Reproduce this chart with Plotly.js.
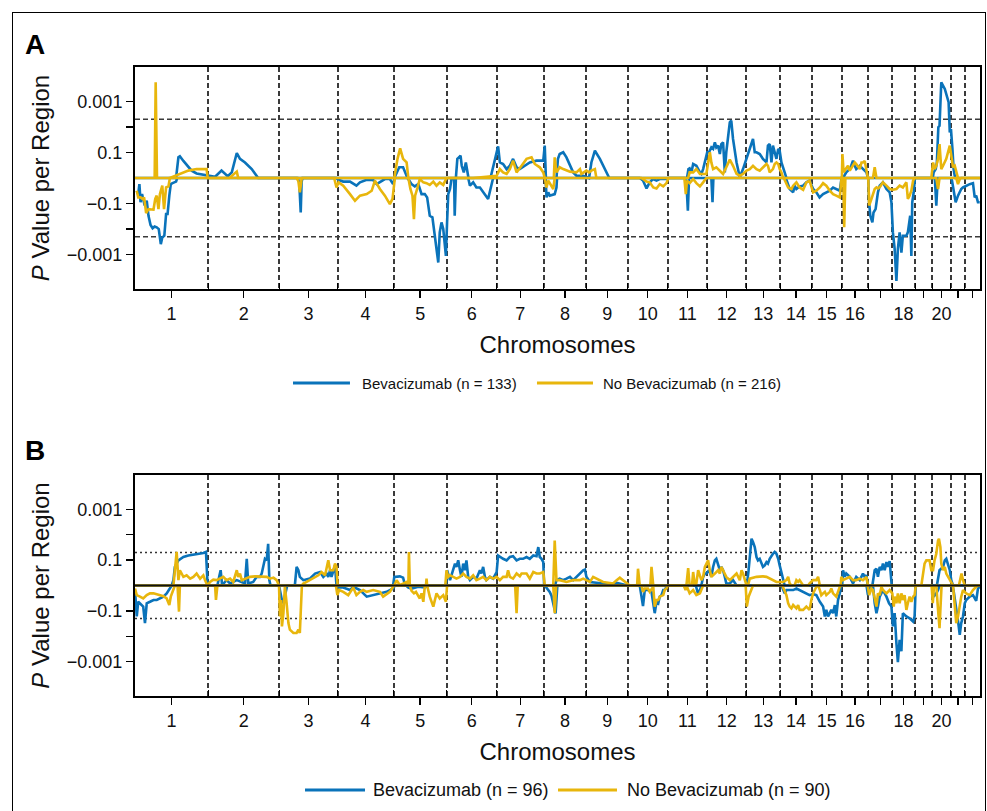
<!DOCTYPE html>
<html><head><meta charset="utf-8">
<script src="https://cdn.plot.ly/plotly-3.0.1.min.js"></script>
<style>
html,body{margin:0;padding:0;background:#fff}
#chart{width:987px;height:811px}
#frame{position:absolute;left:12px;top:12px;width:972px;height:820px;border:1px solid #000;border-bottom:none;pointer-events:none}
</style>
</head><body><div id="chart"></div><div id="frame"></div>
<script>
// Chromosome lengths (Mb, hg19) and labels
const chrSizes = [249.3,243.2,198.0,191.2,180.9,171.1,159.1,146.4,141.2,135.5,135.0,133.9,115.2,107.3,102.5,90.4,81.2,78.1,59.1,63.0,48.1,51.3];
const chrLabels = ['1','2','3','4','5','6','7','8','9','10','11','12','13','14','15','16','','18','','20','',''];
// y tick values in signed -log10(P) and their labels
const yTickVals = [-3,-2,-1,1,2,3];
const yTickText = ['\u22120.001','','\u22120.1','0.1','','0.001'];
const thrA = 2.3;   // P = 0.005
const thrB = 1.3;   // P = 0.05
const legendA = ['Bevacizumab (n = 133)','No Bevacizumab (n = 216)'];
const legendB = ['Bevacizumab (n = 96)','No Bevacizumab (n = 90)'];

// Panel A: [genome position Mb, signed -log10 P]
const aBevLoss = [[6,-0.50],[11,-0.63],[15,-0.24],[19,-0.95],[24,-0.63],[28,-0.82],[33,-1.08],[40,-0.89],[46,-1.48],[53,-1.84],[60,-1.97],[67,-1.90],[74,-1.93],[81,-2.00],[88,-2.59],[93,-2.33],[100,-2.26],[106,-1.41],[111,-1.41],[117,-0.69],[122,-0.24],[128,-0.20],[140,-0.14],[144,0],
[554,0],[560,-0.17],[565,-1.35],[568,-0.17],[571,0],
[687,0],[693,-0.07],[710,-0.14],[733,-0.14],[755,-0.30],[767,-0.17],[790,-0.07],[812,-0.08],[824,-0.24],[852,-0.04],[869,-0.04],[880,-0.24],[886,0],
[929,0],[935,-0.10],[943,-0.24],[954,-0.33],[966,-0.24],[977,-0.63],[988,-0.63],[996,-0.76],[1005,-1.48],[1014,-1.54],[1022,-2.26],[1028,-2.78],[1034,-3.31],[1039,-2.13],[1045,-1.74],[1051,-2.00],[1056,-2.78],[1060,-3.05],[1064,-1.74],[1068,-0.63],[1074,-0.43],[1079,-0.04],[1088,-0.04],[1090,-1.48],[1094,-0.04],[1096,0],
[1136,0],[1142,-0.30],[1153,-0.17],[1164,-0.37],[1176,-0.37],[1204,-0.82],[1221,0],
[1400,0],[1403,-0.76],[1409,-0.56],[1414,-0.69],[1423,-0.67],[1431,-0.63],[1437,-0.37],[1439,0],
[1721,0],[1732,-0.10],[1744,-0.41],[1755,-0.17],[1766,-0.04],[1778,-0.10],[1789,-0.04],[1812,-0.04],[1818,0],
[1874,0],[1880,-0.17],[1885,-1.28],[1889,0],
[1965,0],[1969,-0.95],[1972,0],
[2219,0],[2232,-0.43],[2244,-0.56],[2249,-0.30],[2255,-0.43],[2266,-0.33],[2278,-0.30],[2289,-0.17],[2300,-0.10],[2306,-0.24],[2312,-0.43],[2323,-0.56],[2334,-0.76],[2346,-0.63],[2357,-0.56],[2369,-0.50],[2380,-0.37],[2391,-0.43],[2403,-0.50],[2409,0],
[2500,0],[2503,-0.95],[2507,-1.48],[2514,-1.74],[2518,-1.35],[2525,-1.22],[2533,-0.56],[2539,-0.30],[2550,-0.17],[2562,-0.43],[2573,-0.56],[2579,-0.95],[2584,-2.13],[2590,-2.78],[2596,-4.03],[2601,-2.78],[2607,-2.13],[2613,-2.92],[2618,-2.26],[2630,-2.26],[2635,-2.13],[2643,-1.48],[2647,-3.05],[2650,-0.95],[2655,-0.56],[2659,0],
[2727,0],[2732,-1.08],[2737,0],
[2784,0],[2791,-0.43],[2798,-0.95],[2806,-0.69],[2812,-0.56],[2817,-0.43],[2823,-0.37],[2834,-0.30],[2846,-0.24],[2857,-0.20],[2863,-0.76],[2868,-0.69],[2874,-0.95],[2880,-0.95]];

const aBevGain = [[0,0],[140,0],[148,0.81],[153,0.85],[165,0.67],[178,0.48],[193,0.29],[210,0.18],[247,0.12],[273,0.05],[295,0.29],[316,0.07],[330,0.22],[347,0.98],[358,0.75],[375,0.61],[398,0.35],[420,0],
[884,0],[892,0.22],[901,0.42],[914,0.42],[924,0.16],[929,0],
[1094,0],[1099,0.75],[1105,0.81],[1110,0.88],[1114,0.48],[1121,0.22],[1128,0.61],[1133,0.29],[1137,0],
[1212,0],[1238,1.24],[1244,0.61],[1255,0.55],[1267,0.35],[1278,0.48],[1289,0.75],[1295,0.61],[1301,0.42],[1312,0.35],[1329,0.48],[1346,0.61],[1369,0.68],[1392,0.68],[1397,1.27],[1401,0],
[1437,0],[1442,0.75],[1448,0.94],[1460,1.01],[1471,0.81],[1483,0.48],[1494,0.22],[1505,0.09],[1528,0.09],[1542,0.03],[1548,0],[1556,0.61],[1568,1.07],[1585,0.75],[1602,0.35],[1617,0],
[1882,0],[1887,0.35],[1891,0.38],[1897,0.22],[1903,0.55],[1914,0.48],[1926,0.22],[1931,0.16],[1937,0.35],[1943,0.61],[1951,1.01],[1957,1.01],[1965,1.20],[1971,1.14],[1977,1.40],[1982,1.20],[1988,1.27],[1994,0.94],[1999,1.33],[2005,1.40],[2011,0.22],[2016,1.01],[2028,2.18],[2033,2.25],[2039,1.53],[2051,0.61],[2062,0.03],[2073,0.35],[2085,0.75],[2096,1.14],[2102,1.40],[2107,1.53],[2113,1.01],[2119,1.01],[2130,0.94],[2141,0.75],[2153,0.61],[2158,1.27],[2164,1.33],[2170,0.61],[2175,1.27],[2181,1.01],[2187,0.75],[2193,1.14],[2198,1.07],[2204,0.61],[2210,0.35],[2215,0.22],[2221,0],
[2414,0],[2425,0.22],[2437,0.35],[2442,0.48],[2448,0.68],[2454,0.48],[2459,0.35],[2471,0.48],[2482,0.35],[2494,0.22],[2499,0],
[2720,0],[2723,0.22],[2730,0.35],[2734,0.61],[2739,1.99],[2743,2.05],[2749,3.75],[2761,3.49],[2774,2.97],[2778,1.79],[2782,1.92],[2787,1.14],[2791,0.35],[2796,0],[2881,0]];

const aNoBevLoss = [[6,-0.50],[11,-0.76],[19,-0.76],[26,-0.82],[31,-0.76],[38,-1.37],[46,-1.22],[53,-1.22],[63,-1.24],[69,-0.82],[74,-0.69],[80,-1.22],[85,-0.63],[93,-0.30],[99,-1.22],[106,-0.37],[114,-0.33],[119,0],
[551,0],[557,-0.12],[562,-0.56],[568,-0.04],[571,0],
[679,0],[687,-0.37],[694,-0.17],[710,-0.30],[733,-0.63],[750,-0.89],[767,-0.69],[790,-0.63],[807,-0.50],[818,-0.10],[835,-0.43],[852,-0.69],[869,-1.02],[878,-0.82],[886,0],
[932,0],[939,-0.43],[946,-0.69],[951,-1.61],[955,-0.69],[962,-0.43],[971,-0.04],[983,-0.17],[994,-0.20],[1005,-0.27],[1017,-0.14],[1028,-0.30],[1039,-0.17],[1051,-0.27],[1062,0],
[1397,0],[1403,-0.37],[1409,-0.10],[1420,-0.30],[1426,-0.43],[1431,0],
[1727,0],[1732,-0.04],[1744,-0.14],[1755,-0.17],[1767,-0.37],[1778,-0.41],[1789,-0.24],[1801,-0.33],[1812,-0.20],[1819,0],
[1873,0],[1878,-0.63],[1882,-0.10],[1891,-0.20],[1903,-0.04],[1914,-0.20],[1926,-0.33],[1937,-0.17],[1948,0],
[2212,0],[2227,-0.37],[2238,-0.43],[2244,-0.30],[2255,-0.17],[2266,-0.37],[2278,-0.46],[2289,-0.17],[2300,-0.10],[2312,-0.56],[2323,-0.50],[2335,-0.37],[2346,-0.20],[2357,-0.30],[2369,-0.50],[2380,-0.63],[2391,-0.69],[2403,-0.76],[2409,0],
[2415,0],[2418,-1.93],[2422,0],
[2500,0],[2503,-1.08],[2511,-0.82],[2516,-0.63],[2522,-0.43],[2528,-0.37],[2534,-0.41],[2541,-0.33],[2550,-0.17],[2562,-0.30],[2573,-0.43],[2584,-0.46],[2596,-0.43],[2607,-0.30],[2618,-0.37],[2630,-0.17],[2635,-0.82],[2641,-0.69],[2647,-0.50],[2653,-0.10],[2658,0],
[2732,0],[2738,-0.43],[2743,0],[2800,0],[2806,-0.24],[2812,-0.04],[2817,0],[2881,0]];

const aNoBevGain = [[0,0],[67,0],[70.5,3.75],[75,0],[119,0],[148,0.12],[182,0.29],[210,0.35],[244,0.35],[248,0],[322,0],[347,0.25],[352,0],
[884,0],[895,0.75],[904,1.16],[914,0.75],[926,0.61],[932,0],
[1153,0],[1210,0.05],[1233,0.09],[1244,0.35],[1255,0.22],[1267,0.16],[1278,0.35],[1289,0.68],[1301,0.22],[1318,0.48],[1335,0.75],[1352,0.81],[1363,0.55],[1380,0.42],[1392,0.22],[1397,0],
[1428,0],[1431,0.81],[1437,0.22],[1448,0.42],[1460,0.35],[1483,0.25],[1505,0.22],[1517,0.35],[1522,0.16],[1539,0.29],[1548,0.22],[1556,0.29],[1568,0.35],[1573,0],
[1886,0],[1891,0.22],[1903,0.22],[1914,0.35],[1926,0.16],[1948,0.16],[1960,1.01],[1965,0.61],[1971,0.35],[1982,0.42],[1994,0.29],[2005,0.16],[2016,0.42],[2028,0.72],[2039,0.48],[2051,0.16],[2062,0.09],[2073,0.16],[2085,0.29],[2096,0.35],[2107,0.48],[2119,0.35],[2130,0.29],[2141,0.42],[2153,0.55],[2158,0.48],[2164,0.22],[2175,0.35],[2181,0.55],[2187,0.61],[2193,0.55],[2198,0.35],[2204,0.22],[2210,0],
[2410,0],[2412,0.94],[2416,0.22],[2423,0.35],[2431,0.48],[2437,0.29],[2446,0.48],[2454,0.61],[2459,0.55],[2471,0.35],[2477,0.61],[2482,0.61],[2488,0.67],[2494,0.35],[2499,0],[2516,0],[2522,0.42],[2528,0],
[2715,0],[2721,0.61],[2726,0.35],[2732,0.48],[2738,0.75],[2743,1.33],[2749,0.35],[2755,0.48],[2766,0.75],[2778,1.27],[2783,0.81],[2789,0.42],[2795,0.48],[2800,0.22],[2806,0],[2881,0]];

// Panel B
const bBevLoss = [[0,-0.18],[6,-1.22],[11,-0.64],[17,-0.70],[23,-0.77],[28,-0.83],[34,-1.48],[40,-0.70],[51,-0.64],[63,-0.57],[74,-0.57],[85,-0.51],[97,-0.44],[108,-0.31],[114,-0.18],[119,-0.08],[125,0],
[491,0],[497,-0.38],[503,-0.70],[509,-0.51],[515,-0.18],[519,0],
[690,0],[694,-0.08],[710,-0.08],[733,-0.18],[744,-0.05],[767,-0.18],[790,-0.44],[812,-0.38],[835,-0.34],[858,-0.25],[880,-0.12],[886,0],
[924,0],[932,-0.08],[943,-0.12],[966,-0.05],[988,-0.08],[1005,0],
[1397,0],[1409,-0.18],[1414,-0.25],[1420,-0.40],[1426,-0.65],[1431,-0.96],[1434,-1.10],[1437,-0.50],[1440,0],
[1721,0],[1732,-0.81],[1738,-0.18],[1749,-0.18],[1761,-0.25],[1772,-1.09],[1778,-0.64],[1784,-0.70],[1789,-0.44],[1795,-0.38],[1801,-0.18],[1806,-0.18],[1812,-0.05],[1816,0],
[1912,0],[1920,-0.34],[1926,-0.18],[1931,0],
[2204,0],[2210,-0.18],[2215,-0.31],[2221,-0.18],[2244,-0.18],[2255,-0.12],[2266,-0.18],[2278,-0.25],[2289,-0.31],[2300,-0.38],[2312,-0.34],[2323,-0.38],[2335,-0.64],[2346,-0.83],[2352,-1.22],[2357,-0.96],[2363,-1.22],[2369,-1.09],[2374,-0.96],[2380,-1.09],[2386,-0.77],[2391,-1.22],[2397,-0.57],[2403,-0.31],[2408,0],
[2494,0],[2499,-0.38],[2505,-0.05],[2516,0],[2522,-0.70],[2528,-1.09],[2533,-0.83],[2539,-0.44],[2550,-0.18],[2562,-0.44],[2571,-0.70],[2579,-0.83],[2584,-1.61],[2590,-1.09],[2596,-2.27],[2601,-3.02],[2607,-2.14],[2613,-2.59],[2618,-1.09],[2630,-1.22],[2641,-1.29],[2653,-1.42],[2658,-1.22],[2662,0],
[2718,0],[2723,-0.44],[2732,-0.31],[2738,-0.18],[2743,0],
[2787,0],[2791,-0.21],[2798,-0.70],[2803,-1.09],[2807,-1.48],[2812,-1.94],[2817,-1.48],[2823,-1.22],[2829,-0.70],[2834,-0.57],[2846,-0.44],[2857,-0.38],[2868,-0.60],[2874,-0.12],[2880,-0.05]];

const bBevGain = [[0,0],[125,0],[131,0.21],[136,0.73],[148,0.99],[165,1.12],[182,1.18],[210,1.22],[233,1.28],[242,1.32],[247,0.14],[251,0],
[281,0],[287,0.34],[292,0.60],[297,0.01],[312,0.21],[324,0.08],[347,0.21],[375,0.08],[381,1.05],[386,0.08],[403,0.14],[415,0.34],[426,0.34],[432,0.47],[437,0.73],[443,1.05],[449,0.99],[454,1.64],[458,0.21],[462,0],
[545,0],[551,0.73],[557,0.60],[562,0.34],[574,0.21],[596,0.27],[614,0.47],[631,0.53],[642,0.34],[653,0.47],[659,0.34],[665,0.60],[670,0.34],[682,0.79],[687,0],
[880,0],[884,0.34],[892,0.36],[903,0.36],[914,0.31],[921,0],
[1060,0],[1064,0.60],[1074,0.21],[1085,0.60],[1091,0.86],[1096,0.73],[1102,0.99],[1108,0.60],[1113,0.34],[1119,0.86],[1125,0.60],[1130,0.99],[1136,0.34],[1142,0.21],[1153,0.34],[1164,0.27],[1176,0.60],[1181,0.47],[1187,0.73],[1193,0.34],[1198,0.21],[1210,0.34],[1221,0.27],[1233,0.53],[1238,1.18],[1255,1.05],[1267,0.99],[1278,1.12],[1289,1.15],[1301,0.99],[1312,1.05],[1323,1.05],[1335,1.12],[1346,1.05],[1358,1.18],[1369,1.15],[1375,1.51],[1380,1.12],[1386,1.05],[1392,0.92],[1395,0],
[1432,0],[1437,0.21],[1448,0.27],[1460,0.21],[1471,0.27],[1483,0.34],[1494,0.21],[1505,0.34],[1517,0.47],[1528,0.60],[1534,0.63],[1539,0.34],[1551,0.14],[1573,0.10],[1596,0.08],[1619,0.05],[1642,0.10],[1676,0.01],[1681,0],
[1931,0],[1937,0.34],[1943,0.47],[1948,0.47],[1957,0.60],[1965,0.34],[1971,0.73],[1977,0.99],[1982,1.05],[1988,0.86],[1994,0.60],[1999,0.73],[2005,0.60],[2011,0.34],[2016,0.08],[2028,0.08],[2039,0.21],[2051,0],
[2086,0],[2092,0.60],[2096,1.25],[2102,1.84],[2107,1.71],[2113,1.51],[2119,1.12],[2124,0.99],[2130,1.05],[2141,0.73],[2147,0.79],[2153,0.92],[2158,0.86],[2164,1.05],[2175,1.25],[2181,1.32],[2187,1.25],[2193,1.05],[2198,0.79],[2204,0.47],[2210,0.21],[2215,0],
[2411,0],[2414,0.60],[2420,0.34],[2425,0.47],[2437,0.34],[2448,0.08],[2459,0.34],[2471,0.21],[2482,0.47],[2488,0.34],[2494,0.40],[2498,0],
[2514,0],[2522,0.60],[2528,0.66],[2533,0.34],[2539,0.73],[2545,0.60],[2550,0.86],[2556,0.60],[2562,0.92],[2567,0.73],[2573,0.96],[2576,0.60],[2580,0],
[2734,0],[2743,0.60],[2755,0.73],[2761,0.99],[2766,1.05],[2772,0.86],[2778,0.60],[2783,0.21],[2789,0],[2881,0]];

const bNoBevLoss = [[0,-0.12],[6,-0.38],[17,-0.44],[28,-0.51],[40,-0.38],[51,-0.31],[63,-0.31],[74,-0.34],[85,-0.38],[97,-0.42],[108,-0.51],[117,-0.77],[122,-0.44],[128,-0.25],[136,0],[145,0],[150,-1.03],[153,0],
[273,0],[276,-0.57],[281,0],
[491,0],[494,-1.22],[498,-0.57],[501,-1.61],[506,-1.09],[511,-0.05],[517,-0.70],[523,-1.48],[528,-1.74],[540,-1.87],[551,-1.87],[557,-1.74],[562,-1.87],[565,-1.09],[569,0],
[685,0],[690,-0.38],[696,-0.18],[710,-0.25],[727,-0.38],[744,-0.08],[755,-0.38],[767,-0.25],[778,-0.18],[790,-0.25],[812,-0.18],[835,-0.25],[846,-0.44],[869,-0.25],[880,-0.05],[884,0],
[937,0],[943,-0.21],[951,-0.31],[958,-0.25],[966,-0.42],[971,-0.51],[977,-0.31],[983,-0.64],[988,-0.05],[992,0],[996,0],[1000,-0.18],[1005,-0.44],[1017,-0.83],[1022,-0.64],[1028,-0.31],[1039,-0.51],[1051,-0.38],[1060,-0.64],[1064,0],
[1296,0],[1301,-1.09],[1305,0],
[1426,0],[1431,-1.09],[1436,0],
[1727,0],[1732,-0.25],[1738,-0.12],[1749,-0.12],[1755,-0.25],[1767,-0.05],[1772,-0.83],[1778,-0.57],[1784,-0.57],[1789,-0.44],[1801,-0.38],[1806,-0.18],[1812,-0.12],[1816,0],
[1871,0],[1877,-0.18],[1882,-0.05],[1891,-0.31],[1903,-0.18],[1914,-0.38],[1926,-0.31],[1931,-0.18],[1937,0],
[2082,0],[2086,-0.83],[2092,-0.44],[2102,-0.18],[2107,0],
[2207,0],[2215,-0.18],[2221,-0.38],[2227,-0.70],[2232,-0.83],[2238,-0.90],[2244,-0.77],[2255,-0.90],[2261,-0.77],[2266,-0.96],[2278,-0.96],[2289,-0.83],[2300,-0.96],[2306,-0.57],[2312,-0.31],[2323,-0.05],[2329,0],[2335,-0.18],[2340,-0.38],[2346,-0.31],[2352,-0.25],[2357,-0.38],[2369,-0.25],[2374,-0.12],[2380,-0.31],[2391,-0.44],[2397,-0.25],[2403,-0.05],[2408,0],
[2498,0],[2503,-0.38],[2511,-0.12],[2516,-0.18],[2522,-0.57],[2528,-0.83],[2533,-0.31],[2539,-0.38],[2545,-0.05],[2550,-0.18],[2562,-0.31],[2573,-0.18],[2582,-0.31],[2587,-0.83],[2590,-0.44],[2596,-0.70],[2601,-0.31],[2607,-0.70],[2613,-0.31],[2618,-0.57],[2624,-0.38],[2630,-0.96],[2635,-0.70],[2641,-0.44],[2647,-0.64],[2653,-0.44],[2658,-0.38],[2662,0],
[2716,0],[2720,-0.70],[2724,-0.05],[2732,0],[2738,-0.96],[2743,-1.68],[2747,-0.70],[2750,0],
[2789,0],[2795,-0.70],[2800,-1.48],[2806,-1.22],[2812,-0.70],[2817,-0.44],[2823,-0.18],[2834,-0.31],[2846,-0.38],[2857,-0.18],[2868,-0.05],[2874,0],[2881,0]];

const bNoBevGain = [[0,0],[131,0],[142,1.32],[148,0.21],[153,0.60],[165,0.34],[176,0.40],[188,0.27],[199,0.34],[210,0.47],[222,0.27],[233,0.40],[239,0.21],[247,0],[256,0.14],[267,0.23],[278,0.21],[290,0.27],[301,0.34],[312,0.21],[324,0.27],[335,0.14],[347,0.60],[352,0.34],[358,0.47],[364,0.21],[375,0.27],[392,0.34],[409,0.36],[426,0.36],[449,0.34],[460,0.27],[472,0.31],[483,0.21],[491,0],
[568,0],[574,0.08],[585,0.14],[596,0.21],[614,0.34],[625,0.40],[636,0.53],[648,0.40],[659,0.99],[665,0.60],[676,0.60],[682,0.86],[687,0.73],[691,0],
[884,0],[892,0.21],[903,0.01],[926,0.14],[932,0],[934,1.32],[937,0],[992,0],[994,0.27],[996,0],
[1058,0],[1062,0.60],[1068,0.34],[1074,0.40],[1085,0.34],[1096,0.27],[1108,0.34],[1119,0.47],[1130,0.34],[1142,0.27],[1153,0.40],[1164,0.21],[1176,0.27],[1187,0.34],[1198,0.21],[1210,0.34],[1221,0.27],[1233,0.34],[1244,0.21],[1255,0.34],[1267,0.34],[1272,0.60],[1278,0.34],[1289,0.27],[1301,0.47],[1312,0.36],[1318,0.47],[1335,0.47],[1346,0.27],[1358,0.53],[1369,0.47],[1380,0.47],[1392,0.53],[1397,0],
[1426,0],[1431,1.77],[1437,0.21],[1448,0.21],[1471,0.14],[1494,0.21],[1517,0.21],[1528,0.27],[1539,0.21],[1551,0.14],[1562,0.34],[1573,0.27],[1585,0.21],[1596,0.14],[1619,0.10],[1630,0.08],[1642,0.21],[1653,0.31],[1664,0.21],[1681,0.08],[1687,0],
[1712,0],[1715,0.66],[1721,0],[1757,0],[1761,0.73],[1767,0],
[1880,0],[1886,0.68],[1891,0],[1899,0],[1903,0.53],[1909,0],[1914,0.08],[1920,0.60],[1931,0.21],[1937,0.34],[1943,0.73],[1948,0.86],[1954,0.99],[1960,0.60],[1965,0.34],[1977,0.47],[1988,0.60],[1994,0.47],[1999,0.73],[2005,0.60],[2016,0.34],[2028,0.21],[2039,0.34],[2051,0.47],[2062,0.21],[2068,0.60],[2073,0.47],[2079,0.21],[2085,0],
[2090,0],[2096,0.27],[2119,0.34],[2141,0.36],[2153,0.34],[2164,0.27],[2175,0.21],[2187,0.14],[2210,0.14],[2221,0.21],[2227,0.34],[2232,0.08],[2238,0],
[2249,0],[2255,0.21],[2261,0.14],[2266,0.21],[2278,0],[2295,0],[2300,0.08],[2312,0.21],[2323,0.21],[2329,0.34],[2335,0],
[2406,0],[2408,0.34],[2414,0.21],[2425,0.27],[2437,0.34],[2448,0.21],[2459,0.21],[2471,0.27],[2482,0.21],[2494,0.34],[2499,0],
[2681,0],[2687,0.60],[2692,0.86],[2698,0.99],[2709,0.99],[2715,0.60],[2721,0.60],[2726,0.99],[2732,1.25],[2738,1.77],[2741,1.84],[2746,1.51],[2749,0.86],[2755,0.60],[2761,0.73],[2766,0.47],[2772,0.34],[2778,0.21],[2783,0.08],[2789,0],
[2809,0],[2814,0.21],[2818,0.47],[2823,0.21],[2829,0],[2881,0]];

// ---- derived axis positions ----
const bounds = [0];
chrSizes.forEach(s => bounds.push(bounds[bounds.length-1] + s));
const genomeEnd = bounds[bounds.length-1];
const mids = chrSizes.map((s,i) => bounds[i] + s/2);
const inner = bounds.slice(1, -1);

const BLUE = '#0A73BA', YELLOW = '#E8B60C';
const sans = "'Liberation Sans', Arial, Helvetica, sans-serif";

function tr(pairs, color, name, xa, ya) {
  return {type:'scatter', mode:'lines', x:pairs.map(p=>p[0]), y:pairs.map(p=>p[1]),
    xaxis:xa, yaxis:ya, name:name, showlegend:false,
    line:{color:color, width:2.6}, hoverinfo:'skip'};
}
const data = [
  tr(aBevLoss, BLUE, legendA[0], 'x', 'y'),
  tr(aBevGain, BLUE, legendA[0], 'x', 'y'),
  tr(aNoBevLoss, YELLOW, legendA[1], 'x', 'y'),
  tr(aNoBevGain, YELLOW, legendA[1], 'x', 'y'),
  tr(bBevLoss, BLUE, legendB[0], 'x3', 'y2'),
  tr(bBevGain, BLUE, legendB[0], 'x3', 'y2'),
  tr(bNoBevLoss, YELLOW, legendB[1], 'x3', 'y2'),
  tr(bNoBevGain, YELLOW, legendB[1], 'x3', 'y2')
];

function xMain(anchor) {
  return {anchor:anchor, domain:[0,1], range:[0,genomeEnd], tickmode:'array', tickvals:mids, ticktext:chrLabels,
    ticks:'outside', ticklen:7, tickwidth:1.3, tickcolor:'#000', showline:true, linecolor:'#000', linewidth:2, mirror:true,
    showgrid:false, zeroline:false, tickfont:{family:sans, size:18, color:'#111'},
    title:{text:'Chromosomes', font:{family:sans, size:24, color:'#111'}, standoff:14}};
}
function xBounds(over, anchor) {
  return {overlaying:over, anchor:anchor, range:[0,genomeEnd], tickmode:'array', tickvals:inner,
    ticks:'inside', ticklen:6, tickwidth:1, tickcolor:'#000', showticklabels:false, showline:false,
    showgrid:true, gridcolor:'#3a3a3a', gridwidth:2, griddash:'5px,3px', zeroline:false};
}
function yAx(domain, anchor) {
  return {domain:domain, anchor:anchor, range:[-4.35,4.35], tickmode:'array', tickvals:yTickVals, ticktext:yTickText,
    ticks:'outside', ticklen:7, tickwidth:1.3, tickcolor:'#000', showline:true, linecolor:'#000', linewidth:2, mirror:true,
    showgrid:false, zeroline:false, tickfont:{family:sans, size:18, color:'#111'},
    title:{text:'<i>P</i> Value per Region', font:{family:sans, size:24, color:'#111'}, standoff:10}};
}
const shapes = [
  {type:'line', xref:'x domain', yref:'y', x0:0, x1:1, y0:thrA, y1:thrA, line:{color:'#3a3a3a', width:1.6, dash:'5px,3px'}, layer:'below'},
  {type:'line', xref:'x domain', yref:'y', x0:0, x1:1, y0:-thrA, y1:-thrA, line:{color:'#3a3a3a', width:1.6, dash:'5px,3px'}, layer:'below'},
  {type:'line', xref:'x3 domain', yref:'y2', x0:0, x1:1, y0:thrB, y1:thrB, line:{color:'#333', width:1.6, dash:'2px,3px'}, layer:'below'},
  {type:'line', xref:'x3 domain', yref:'y2', x0:0, x1:1, y0:-thrB, y1:-thrB, line:{color:'#333', width:1.6, dash:'2px,3px'}, layer:'below'},
  {type:'line', xref:'x3 domain', yref:'y2', x0:0, x1:1, y0:0, y1:0, line:{color:'#111', width:1.8}, layer:'above'}
];
// manual legends (paper coordinates)
const annotations = [
  {text:'<b>A</b>', xref:'paper', yref:'paper', x:-0.118, y:1.035, xanchor:'center', yanchor:'middle', showarrow:false, font:{family:sans, size:28, color:'#000'}},
  {text:'<b>B</b>', xref:'paper', yref:'paper', x:-0.118, y:0.391, xanchor:'center', yanchor:'middle', showarrow:false, font:{family:sans, size:28, color:'#000'}}
];
function legendItem(x0, x1, xt, y, color, text, size) {
  shapes.push({type:'line', xref:'paper', yref:'paper', x0:x0, x1:x1, y0:y, y1:y, line:{color:color, width:3}});
  annotations.push({text:text, xref:'paper', yref:'paper', x:xt, y:y, xanchor:'left', yanchor:'middle', showarrow:false, font:{family:sans, size:size, color:'#111'}});
}
legendItem(0.1870, 0.2544, 0.2662, 0.4976, BLUE, legendA[0], 15);
legendItem(0.4757, 0.5420, 0.5515, 0.4976, YELLOW, legendA[1], 15);
legendItem(0.2012, 0.2722, 0.2793, -0.1494, BLUE, legendB[0], 18);
legendItem(0.5006, 0.5704, 0.5799, -0.1494, YELLOW, legendB[1], 18);

const layout = {
  width:987, height:811, margin:{l:135, r:7, t:67, b:115}, paper_bgcolor:'#fff', plot_bgcolor:'#fff',
  xaxis: xMain('y'), xaxis2: xBounds('x','y'),
  xaxis3: xMain('y2'), xaxis4: xBounds('x3','y2'),
  yaxis: yAx([0.647,1],'x'), yaxis2: yAx([0,0.3514],'x3'),
  shapes: shapes, annotations: annotations, showlegend:false
};
// invisible traces so the boundary overlay axes render
data.push({type:'scatter', mode:'lines', x:[0,genomeEnd], y:[0,0], xaxis:'x2', yaxis:'y', line:{width:0}, showlegend:false, hoverinfo:'skip'});
data.push({type:'scatter', mode:'lines', x:[0,genomeEnd], y:[0,0], xaxis:'x4', yaxis:'y2', line:{width:0}, showlegend:false, hoverinfo:'skip'});
Plotly.newPlot('chart', data, layout, {staticPlot:true, displayModeBar:false});
</script></body></html>
